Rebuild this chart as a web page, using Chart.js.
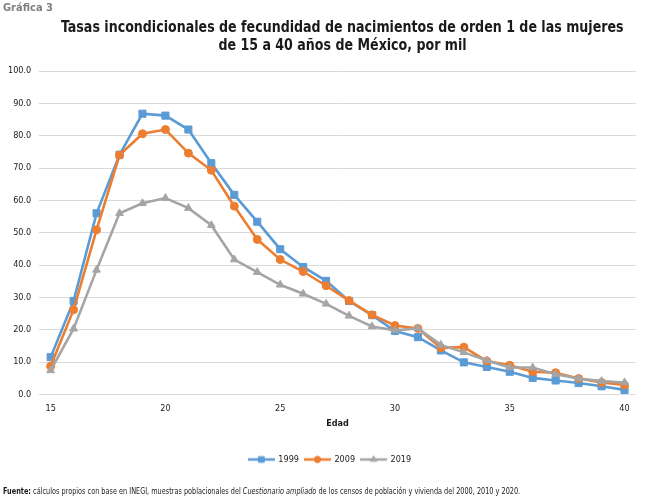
<!DOCTYPE html>
<html><head><meta charset="utf-8">
<script src="https://cdn.jsdelivr.net/npm/chart.js@4/dist/chart.umd.min.js"></script>
<style>
html,body{margin:0;padding:0;background:#fff;}
#wrap{position:relative;width:650px;height:497px;overflow:hidden;background:#fff;font-family:"DejaVu Sans Condensed","Liberation Sans",sans-serif;}
#c{position:absolute;left:0;top:0;}
.fit{position:absolute;white-space:nowrap;display:inline-block;}
#g{left:3px;top:1px;font-size:11px;font-weight:bold;color:#7f7f7f;}
.tl{top:0;font-size:15px;line-height:18px;font-weight:bold;color:#1a1a1a;transform-origin:center top;}
#f{left:3px;top:485px;font-size:9.5px;line-height:12px;color:#1a1a1a;transform-origin:left top;}
</style></head><body>
<div id="wrap">
<canvas id="c" width="650" height="497"></canvas>
<div id="g" class="fit">Gráfica 3</div>
<div id="t1" class="fit tl">Tasas incondicionales de fecundidad de nacimientos de orden 1 de las mujeres</div>
<div id="t2" class="fit tl">de 15 a 40 años de México, por mil</div>
<div id="f" class="fit"><b>Fuente:</b> cálculos propios con base en INEGI, muestras poblacionales del <i>Cuestionario ampliado</i> de los censos de población y vivienda del 2000, 2010 y 2020.</div>
</div>
<script>
const edades = ['15','16','17','18','19','20','21','22','23','24','25','26','27','28','29','30','31','32','33','34','35','36','37','38','39','40'];
const serie1999 = [11.5,28.9,56.0,74.1,86.8,86.2,81.9,71.5,61.7,53.4,44.9,39.4,35.1,28.9,24.5,19.6,17.7,13.6,9.9,8.5,7.0,5.1,4.3,3.5,2.5,1.4];
const serie2009 = [8.7,26.2,50.9,74.0,80.6,81.9,74.6,69.3,58.2,47.9,41.7,38.0,33.6,29.0,24.6,21.3,20.4,14.4,14.6,10.3,9.0,7.0,6.7,4.9,3.7,2.9];
const serie2019 = [7.4,20.3,38.5,56.0,59.1,60.7,57.6,52.3,41.7,37.8,33.9,31.1,28.0,24.3,21.0,19.8,20.4,15.3,13.0,10.5,8.3,8.3,6.2,4.9,4.1,3.7];
const yTicks = ['0.0','10.0','20.0','30.0','40.0','50.0','60.0','70.0','80.0','90.0','100.0'];
const nombres = ['1999','2009','2019'];
const colores = ['#5B9BD5','#ED7D31','#A5A5A5'];
const marcas = ['rect','circle','triangle'];
const radios = [5,4,4.5];

const FONT = '"DejaVu Sans Condensed","Liberation Sans",sans-serif';

// title / footer text fitting (condensed look)
(function(){
  const t1 = document.getElementById('t1'), t2 = document.getElementById('t2');
  const s = 563 / t1.offsetWidth;
  [[t1,342,18],[t2,342,36]].forEach(([el,cx,top])=>{
    const w = el.offsetWidth;
    el.style.left = (cx - w/2) + 'px';
    el.style.top = top + 'px';
    el.style.transform = 'scaleX(' + s + ')';
  });
  const f = document.getElementById('f');
  f.style.transform = 'scaleX(' + (517 / f.offsetWidth) + ')';
})();

function legendImg(color, style, r){
  const cv = document.createElement('canvas');
  cv.width = 27; cv.height = 12;
  const ctx = cv.getContext('2d');
  ctx.strokeStyle = color; ctx.lineWidth = 2.5;
  ctx.beginPath(); ctx.moveTo(0,6); ctx.lineTo(27,6); ctx.stroke();
  ctx.fillStyle = color; ctx.strokeStyle = color; ctx.lineWidth = 1;
  Chart.helpers.drawPoint(ctx, {pointStyle: style, radius: r*0.8, rotation: 0, borderWidth: 1}, 13.5, 6);
  return cv;
}

const datos = [serie1999, serie2009, serie2019];
const datasets = datos.map((d,i)=>({
  label: nombres[i],
  data: d,
  borderColor: colores[i],
  backgroundColor: colores[i],
  pointBackgroundColor: colores[i],
  pointBorderColor: colores[i],
  pointStyle: marcas[i],
  pointRadius: radios[i],
  pointBorderWidth: 1,
  borderWidth: 2.6,
  tension: 0,
  order: 3 - i
}));

const shiftLegend = {
  id: 'shiftLegend',
  beforeDraw(chart){
    if (chart.legend) { chart.legend.left += 12; chart.legend.right += 12; }
  }
};

new Chart(document.getElementById('c'), {
  type: 'line',
  data: { labels: edades, datasets },
  plugins: [shiftLegend],
  options: {
    responsive: false,
    animation: false,
    devicePixelRatio: 1,
    layout: { padding: { top: 71, left: 0, right: 14, bottom: 23 } },
    plugins: {
      title: { display: false },
      tooltip: { enabled: false },
      legend: {
        position: 'bottom',
        labels: {
          font: { family: FONT, size: 9 },
          color: '#1a1a1a',
          usePointStyle: true,
          pointStyleWidth: 25,
          boxHeight: 10,
          padding: 6,
          generateLabels: (chart) => nombres.map((n,i)=>({
            text: n,
            pointStyle: legendImg(colores[i], marcas[i], radios[i]),
            fillStyle: colores[i],
            strokeStyle: colores[i],
            lineWidth: 0,
            hidden: false,
            datasetIndex: i,
            fontColor: '#1a1a1a'
          }))
        }
      }
    },
    scales: {
      x: {
        offset: true,
        grid: { display: false, drawTicks: false },
        border: { display: false },
        ticks: {
          autoSkip: false, maxRotation: 0, padding: 9,
          font: { family: FONT, size: 9 }, color: '#1a1a1a',
          callback: function(v){ const l = this.getLabelForValue(v); return (+l % 5 === 0) ? l : ''; }
        },
        title: { display: true, text: 'Edad', font: { family: FONT, size: 9, weight: 'bold' }, color: '#1a1a1a', padding: { top: -5, bottom: 20 } }
      },
      y: {
        min: 0, max: 100,
        grid: { color: '#D9D9D9', lineWidth: 1, drawTicks: false },
        border: { display: false },
        ticks: {
          stepSize: 10, padding: 8,
          font: { family: FONT, size: 9 }, color: '#1a1a1a',
          callback: (v) => yTicks[Math.round(v/10)]
        }
      }
    }
  }
});
</script>
</body></html>
